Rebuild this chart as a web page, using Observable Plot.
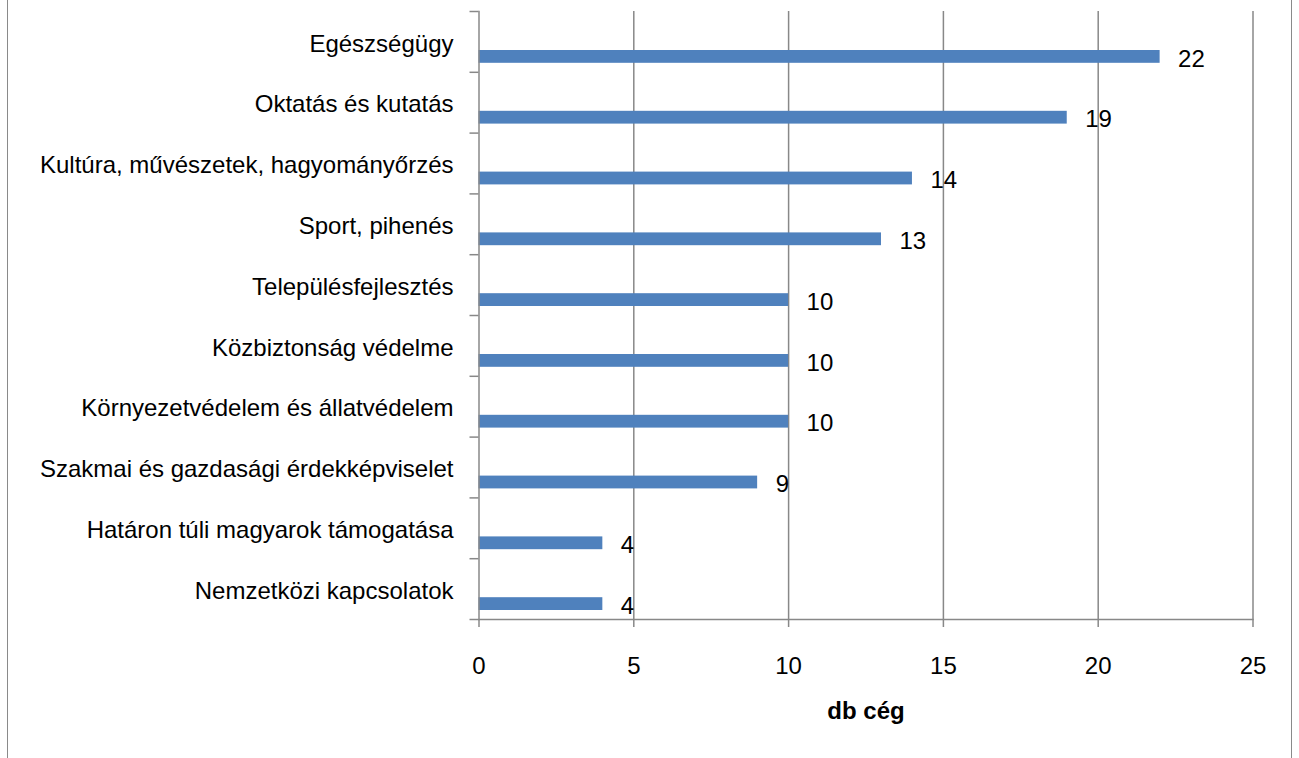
<!DOCTYPE html>
<html>
<head>
<meta charset="utf-8">
<script src="https://cdn.jsdelivr.net/npm/d3@7"></script>
<script src="https://cdn.jsdelivr.net/npm/@observablehq/plot@0.6"></script>
<style>
  html, body { margin: 0; padding: 0; background: #fff; }
  #wrap { position: relative; width: 1299px; height: 758px; overflow: hidden; }
  #border { position: absolute; left: 7px; top: 0; width: 1285px; height: 758px;
            border-left: 1.5px solid #8a8a8a; border-right: 1.5px solid #8a8a8a; box-sizing: border-box; pointer-events: none; }
  #chart { position: absolute; left: 0; top: 0; }
</style>
</head>
<body>
<div id="wrap"><div id="chart"></div><div id="border"></div></div>
<script>
const categories = [
  "Egészségügy",
  "Oktatás és kutatás",
  "Kultúra, művészetek, hagyományőrzés",
  "Sport, pihenés",
  "Településfejlesztés",
  "Közbiztonság védelme",
  "Környezetvédelem és állatvédelem",
  "Szakmai és gazdasági érdekképviselet",
  "Határon túli magyarok támogatása",
  "Nemzetközi kapcsolatok"
];
const values = [22, 19, 14, 13, 10, 10, 10, 9, 4, 4];
const xTicks = [0, 5, 10, 15, 20, 25];
const xLabel = "db cég";

const data = categories.map((c, i) => ({category: c, value: values[i]}));

const W = 1299, H = 758;
const mTop = 11, mBottom = 139, mLeft = 478.5, mRight = 46.5;
const bw = (H - mTop - mBottom) / categories.length;
const gray = "#888888";

const chart = Plot.plot({
  width: W,
  height: H,
  marginTop: mTop,
  marginBottom: mBottom,
  marginLeft: mLeft,
  marginRight: mRight,
  style: {fontFamily: "'Liberation Sans', Arial, sans-serif", fontSize: "24px", color: "black", background: "white"},
  x: {domain: [0, 25], axis: null},
  y: {domain: categories, type: "band", padding: 0, round: false, axis: null},
  marks: [
    Plot.gridX({ticks: xTicks.filter(t => t > 0), stroke: gray, strokeOpacity: 1, strokeWidth: 1.5}),
    Plot.barX(data, {x: "value", y: "category", fill: "#4F81BD", insetTop: 39, insetBottom: 9}),
    Plot.frame({anchor: "left", stroke: gray, strokeWidth: 1.5}),
    Plot.frame({anchor: "bottom", stroke: gray, strokeWidth: 1.5}),
    Plot.axisY({tickSize: 9, tickFormat: () => "", stroke: gray, strokeWidth: 1.5, dy: -bw / 2, label: null}),
    Plot.axisY({ticks: [categories[categories.length - 1]], tickSize: 9, tickFormat: () => "", stroke: gray, strokeWidth: 1.5, dy: bw / 2, label: null}),
    Plot.axisY({tickSize: 0, tickPadding: 25.5, fill: "black", dy: 2, label: null}),
    Plot.axisX({ticks: xTicks, tickSize: 8, tickPadding: 29, stroke: gray, strokeWidth: 1.5, fill: "black", label: null}),
    Plot.text(data, {x: "value", y: "category", text: d => String(d.value), textAnchor: "start", dx: 18, dy: 17, fill: "black", fontSize: 24}),
    Plot.text([xLabel], {frameAnchor: "bottom", dy: 99, fontWeight: "bold", fontSize: 24, fill: "black"})
  ]
});
document.getElementById("chart").appendChild(chart);
</script>
</body>
</html>
